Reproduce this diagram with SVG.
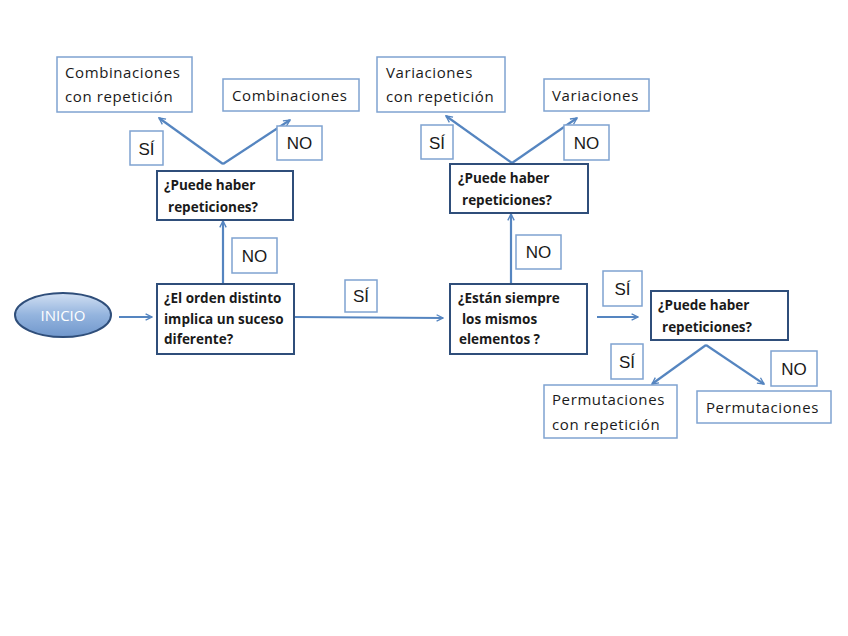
<svg xmlns="http://www.w3.org/2000/svg" width="848" height="636" viewBox="0 0 848 636">
<style>
.lt{fill:#fff;stroke:#7fa3d1;stroke-width:1.5}
.dk{fill:#fff;stroke:#2f4e7a;stroke-width:2}
.t{font-family:"Open Sans","Liberation Sans",sans-serif;font-size:15px;fill:#1a1a1a;letter-spacing:0.6px}
.b{font-family:"Open Sans","Liberation Sans",sans-serif;font-size:13.5px;font-weight:bold;fill:#1a1a1a}
.l{font-family:"Liberation Sans",sans-serif;font-size:17px;fill:#1a1a1a;text-anchor:middle}
.c{fill:none;stroke:#5585c0;stroke-width:2.2;marker-end:url(#ah)}
</style>
<defs>
<marker id="ah" viewBox="0 0 10 10" refX="9" refY="5" markerWidth="8" markerHeight="8" orient="auto" markerUnits="userSpaceOnUse">
<path d="M1,1 L9,5 L1,9" fill="none" stroke="#5585c0" stroke-width="1.7"/>
</marker>
<linearGradient id="eg" x1="0" y1="0" x2="0" y2="1">
<stop offset="0" stop-color="#d2e0f3"/>
<stop offset="0.5" stop-color="#94b4de"/>
<stop offset="1" stop-color="#7097cc"/>
</linearGradient>
</defs>
<rect width="848" height="636" fill="#fff"/>
<g id="connectors">
<path class="c" d="M119,317 L152,317"/>
<path class="c" d="M294,317 L443,318"/>
<path class="c" d="M223,284 L223,221"/>
<path class="c" d="M223,164 L159,118"/>
<path class="c" d="M223,164 L290,120"/>
<path class="c" d="M511,284 L511,214"/>
<path class="c" d="M512,163 L446,116"/>
<path class="c" d="M512,163 L577,118"/>
<path class="c" d="M597,317 L638,317"/>
<path class="c" d="M706,345 L652,384"/>
<path class="c" d="M706,345 L764,384"/>
</g>
<g id="inicio">
<ellipse cx="63" cy="315" rx="48" ry="22" fill="url(#eg)" stroke="#2f4e7a" stroke-width="2"/>
<text x="63" y="320.5" font-family="Open Sans,Liberation Sans,sans-serif" font-size="15" fill="#fff" text-anchor="middle">INICIO</text>
</g>
<g id="q-orden">
<rect class="dk" x="157" y="284" width="137" height="70"/>
<text class="b" x="164" y="303">¿El orden distinto</text>
<text class="b" x="164" y="324">implica un suceso</text>
<text class="b" x="164" y="344">diferente?</text>
</g>
<g id="q-rep1">
<rect class="dk" x="157" y="171" width="136" height="49"/>
<text class="b" x="164" y="190">¿Puede haber</text>
<text class="b" x="168" y="212">repeticiones?</text>
</g>
<g id="comb-rep">
<rect class="lt" x="57" y="57" width="135" height="55"/>
<text class="t" x="65" y="78">Combinaciones</text>
<text class="t" x="65" y="102">con repetición</text>
</g>
<g id="comb">
<rect class="lt" x="223" y="79" width="136" height="32"/>
<text class="t" x="232" y="101">Combinaciones</text>
</g>
<g id="lbl-si-1"><rect class="lt" x="130" y="131" width="33" height="34"/><text class="l" x="146.5" y="155">SÍ</text></g>
<g id="lbl-no-1"><rect class="lt" x="277" y="126" width="45" height="34"/><text class="l" x="299.5" y="149">NO</text></g>
<g id="lbl-no-2"><rect class="lt" x="232" y="238" width="45" height="35"/><text class="l" x="254.5" y="262">NO</text></g>
<g id="lbl-si-2"><rect class="lt" x="345" y="280" width="32" height="32"/><text class="l" x="361" y="302">SÍ</text></g>
<g id="q-mismos">
<rect class="dk" x="450" y="284" width="137" height="70"/>
<text class="b" x="458" y="303">¿Están siempre</text>
<text class="b" x="462" y="324">los  mismos</text>
<text class="b" x="459" y="344">elementos ?</text>
</g>
<g id="q-rep2">
<rect class="dk" x="450" y="164" width="138" height="49"/>
<text class="b" x="458" y="183">¿Puede haber</text>
<text class="b" x="462" y="205">repeticiones?</text>
</g>
<g id="var-rep">
<rect class="lt" x="377" y="57" width="128" height="55"/>
<text class="t" x="386" y="78">Variaciones</text>
<text class="t" x="386" y="102">con repetición</text>
</g>
<g id="var">
<rect class="lt" x="544" y="79" width="105" height="32"/>
<text class="t" x="552" y="101">Variaciones</text>
</g>
<g id="lbl-si-3"><rect class="lt" x="421" y="125" width="32" height="34"/><text class="l" x="437" y="149">SÍ</text></g>
<g id="lbl-no-3"><rect class="lt" x="564" y="125" width="45" height="35"/><text class="l" x="586.5" y="149">NO</text></g>
<g id="lbl-no-4"><rect class="lt" x="516" y="235" width="45" height="34"/><text class="l" x="538.5" y="258">NO</text></g>
<g id="lbl-si-4"><rect class="lt" x="603" y="271" width="39" height="35"/><text class="l" x="622.5" y="295">SÍ</text></g>
<g id="q-rep3">
<rect class="dk" x="651" y="291" width="137" height="49"/>
<text class="b" x="658" y="310">¿Puede haber</text>
<text class="b" x="662" y="332">repeticiones?</text>
</g>
<g id="lbl-si-5"><rect class="lt" x="611" y="344" width="32" height="35"/><text class="l" x="627" y="368">SÍ</text></g>
<g id="lbl-no-5"><rect class="lt" x="771" y="351" width="46" height="35"/><text class="l" x="794" y="375">NO</text></g>
<g id="perm-rep">
<rect class="lt" x="544" y="385" width="133" height="53"/>
<text class="t" x="552" y="405">Permutaciones</text>
<text class="t" x="552" y="430">con repetición</text>
</g>
<g id="perm">
<rect class="lt" x="697" y="391" width="134" height="32"/>
<text class="t" x="706" y="413">Permutaciones</text>
</g>
</svg>
